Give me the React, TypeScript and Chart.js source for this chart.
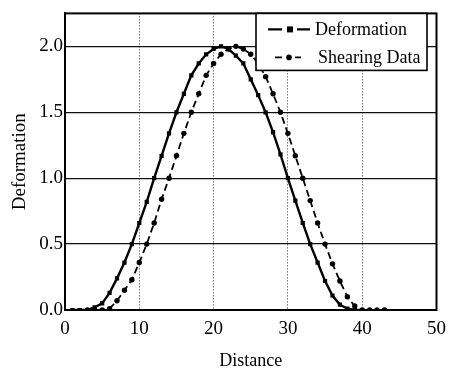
import React, { useEffect, useRef } from "react";
import { Chart, registerables } from "chart.js";

Chart.register(...registerables);

// Deformation series (solid line, square markers)
const deformDistance = [1, 2, 3, 4, 5, 6, 7, 8, 9, 10, 11, 12, 13, 14, 15, 16, 17, 18, 19, 20, 21, 22, 23, 24, 25, 26, 27, 28, 29, 30, 31, 32, 33, 34, 35, 36, 37, 38, 39, 40];
const deformValues = [0, 0, 0, 0.02, 0.05, 0.13, 0.24, 0.36, 0.5, 0.66, 0.82, 1.0, 1.17, 1.34, 1.5, 1.64, 1.78, 1.87, 1.94, 1.98, 2.0, 1.98, 1.93, 1.87, 1.75, 1.63, 1.5, 1.35, 1.18, 1.0, 0.83, 0.66, 0.5, 0.36, 0.22, 0.11, 0.04, 0.01, 0, 0];

// Shearing data series (dashed line, round markers)
const shearDistance = [3, 4, 5, 6, 7, 8, 9, 10, 11, 12, 13, 14, 15, 16, 17, 18, 19, 20, 21, 22, 23, 24, 25, 26, 27, 28, 29, 30, 31, 32, 33, 34, 35, 36, 37, 38, 39, 40, 41, 42, 43];
const shearValues = [0, 0, 0, 0.01, 0.07, 0.15, 0.23, 0.36, 0.5, 0.66, 0.84, 1.0, 1.17, 1.34, 1.5, 1.64, 1.78, 1.87, 1.94, 1.98, 2.0, 1.98, 1.94, 1.87, 1.77, 1.64, 1.5, 1.34, 1.17, 1.0, 0.83, 0.66, 0.5, 0.35, 0.22, 0.1, 0.03, 0, 0, 0, 0];

const seriesLabels = ["Deformation", "Shearing Data"];
const xTitle = "Distance";
const yTitle = "Deformation";

const FONT = "'Liberation Serif', 'DejaVu Serif', serif";

const frameAndLegend = {
  id: "frameAndLegend",
  afterDraw(chart: any) {
    const { ctx, chartArea } = chart;
    ctx.save();
    // full frame
    ctx.strokeStyle = "#000";
    ctx.lineWidth = 2;
    ctx.setLineDash([]);
    ctx.strokeRect(chartArea.left, chartArea.top, chartArea.right - chartArea.left, chartArea.bottom - chartArea.top);

    // legend box
    const bx = 256, by = chartArea.top, bw = 171, bh = 57;
    ctx.fillStyle = "#fff";
    ctx.fillRect(bx, by, bw, bh);
    ctx.lineWidth = 1.6;
    ctx.strokeRect(bx, by, bw, bh);

    const ds = chart.data.datasets;
    // row 1: long dash - square - long dash
    const y1 = by + 16;
    ctx.lineWidth = 2.4;
    ctx.beginPath();
    ctx.moveTo(268, y1); ctx.lineTo(282, y1);
    ctx.moveTo(297, y1); ctx.lineTo(310, y1);
    ctx.stroke();
    ctx.fillStyle = "#000";
    ctx.fillRect(287, y1 - 3, 6, 6);

    // row 2: short dash - dot - short dash
    const y2 = by + 44;
    ctx.lineWidth = 1.8;
    ctx.beginPath();
    ctx.moveTo(275, y2); ctx.lineTo(282, y2);
    ctx.moveTo(295, y2); ctx.lineTo(301, y2);
    ctx.stroke();
    ctx.beginPath();
    ctx.arc(289, y2, 2.8, 0, Math.PI * 2);
    ctx.fill();

    ctx.font = `18px ${FONT}`;
    ctx.textBaseline = "middle";
    ctx.textAlign = "left";
    ctx.fillText(ds[0].label, 315, y1 + 1);
    ctx.fillText(ds[1].label, 318, y2 + 1);
    ctx.restore();
  },
};

export default function App() {
  const ref = useRef<HTMLCanvasElement>(null);

  useEffect(() => {
    if (!ref.current) return;
    const chart = new Chart(ref.current, {
      type: "line",
      data: {
        datasets: [
          {
            label: seriesLabels[0],
            data: deformDistance.map((x, i) => ({ x, y: deformValues[i] })),
            borderColor: "#000",
            backgroundColor: "#000",
            borderWidth: 2.4,
            pointStyle: "rect",
            pointRadius: 3,
            pointBorderWidth: 0,
            tension: 0,
          },
          {
            label: seriesLabels[1],
            data: shearDistance.map((x, i) => ({ x, y: shearValues[i] })),
            borderColor: "#000",
            backgroundColor: "#000",
            borderWidth: 1.8,
            borderDash: [7, 4],
            pointStyle: "circle",
            pointRadius: 2.7,
            pointBorderWidth: 0,
            tension: 0,
          },
        ],
      },
      options: {
        responsive: false,
        animation: false,
        layout: { padding: { top: 8, right: 17, left: 0, bottom: 0 } },
        plugins: { legend: { display: false }, tooltip: { enabled: false } },
        scales: {
          x: {
            type: "linear",
            min: 0,
            max: 50,
            afterFit: (s: any) => { s.height = 66; },
            ticks: { stepSize: 10, color: "#000", font: { family: FONT, size: 19 }, padding: 8, maxRotation: 0 },
            grid: { color: "#333", lineWidth: 1, drawTicks: false },
            border: { display: true, color: "#000", width: 2, dash: [1, 2] },
            title: { display: true, text: xTitle, color: "#000", font: { family: FONT, size: 18 }, padding: { top: 0, bottom: 4 } },
          },
          y: {
            type: "linear",
            min: 0,
            max: 2.25,
            afterFit: (s: any) => { s.width = 65; },
            afterBuildTicks: (s: any) => { s.ticks = s.ticks.filter((t: any) => t.value <= 2.0001); },
            ticks: {
              stepSize: 0.5,
              color: "#000",
              font: { family: FONT, size: 19 },
              padding: 2,
              callback: (v: any) => Number(v).toFixed(1),
            },
            grid: { color: "#111", lineWidth: 1.2, drawTicks: false },
            border: { display: true, color: "#000", width: 2 },
            title: { display: true, text: yTitle, color: "#000", font: { family: FONT, size: 19 }, padding: { top: 9, bottom: 0 } },
          },
        },
      },
      plugins: [frameAndLegend],
    } as any);
    return () => chart.destroy();
  }, []);

  return (
    <div style={{ position: "fixed", left: 0, top: 0, width: 454, height: 376, background: "#fff" }}>
      <canvas ref={ref} width={454} height={376} style={{ display: "block" }} />
    </div>
  );
}
